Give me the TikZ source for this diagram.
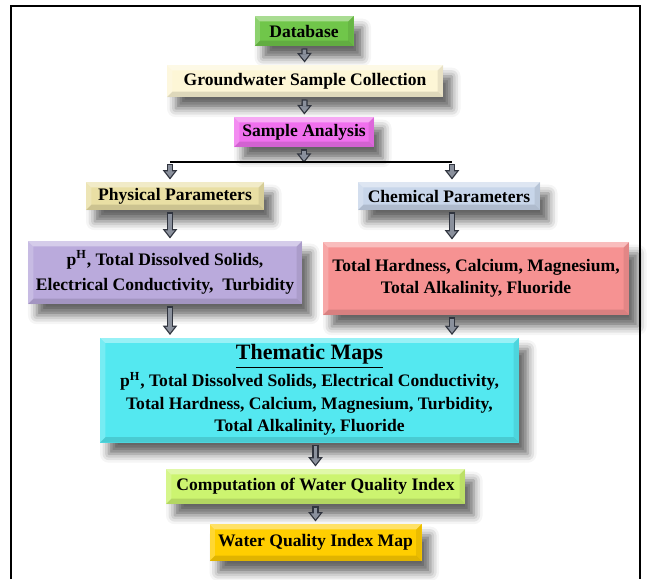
\documentclass[tikz,border=0pt]{standalone}
\usepackage{fontspec}
\setmainfont{Liberation Serif}
\usepackage{tikz}
\usetikzlibrary{arrows.meta}
\usetikzlibrary{shadows.blur}
\usetikzlibrary{calc}

\definecolor{dbgreen}{RGB}{112,198,74}
\definecolor{gwcream}{RGB}{253,246,214}
\definecolor{samagenta}{RGB}{240,112,238}
\definecolor{phkhaki}{RGB}{233,223,164}
\definecolor{chblue}{RGB}{200,214,234}
\definecolor{phlilac}{RGB}{186,170,220}
\definecolor{chsalmon}{RGB}{246,146,146}
\definecolor{tmcyan}{RGB}{84,232,240}
\definecolor{wqlime}{RGB}{204,244,112}
\definecolor{wqgold}{RGB}{255,206,0}
\definecolor{arrowrim}{RGB}{48,52,62}
\definecolor{arrowfill}{RGB}{138,144,156}

\begin{document}
\begin{tikzpicture}[
    x=0.02cm, y=-0.02cm,
    box/.style={
        fill=#1, align=center, inner sep=0pt,
        font=\bfseries\fontsize{10}{12.8}\selectfont,
        blur shadow={shadow xshift=5pt, shadow yshift=-6.5pt,
                     shadow blur radius=5pt, shadow opacity=60},
        path picture={
            \coordinate (bnw) at (path picture bounding box.north west);
            \coordinate (bne) at (path picture bounding box.north east);
            \coordinate (bsw) at (path picture bounding box.south west);
            \coordinate (bse) at (path picture bounding box.south east);
            \fill[white, opacity=0.4] (bnw) -- (bne) -- ([shift={(-3pt,-3pt)}]bne) -- ([shift={(3pt,-3pt)}]bnw) -- cycle;
            \fill[white, opacity=0.2] (bnw) -- (bsw) -- ([shift={(3pt,3pt)}]bsw) -- ([shift={(3pt,-3pt)}]bnw) -- cycle;
            \fill[black, opacity=0.12] (bsw) -- (bse) -- ([shift={(-3pt,3pt)}]bse) -- ([shift={(3pt,3pt)}]bsw) -- cycle;
            \fill[black, opacity=0.08] (bne) -- (bse) -- ([shift={(-3pt,3pt)}]bse) -- ([shift={(-3pt,-3pt)}]bne) -- cycle;
        }
    },
    block arrow/.style={
        draw=arrowrim, line width=3.5pt,
        -{Triangle[length=5.4pt,width=8pt]},
        shorten <=1.2pt, shorten >=1.2pt,
        postaction={draw=arrowfill, line width=2pt,
            -{Triangle[length=3.5pt,width=5.2pt]},
            shorten <=1.9pt, shorten >=2.4pt}
    },
    split line/.style={draw=black, line width=0.9pt}
  ]

  \useasboundingbox (0,0) rectangle (650,579);
  \draw[line width=1.1pt] (11,579) -- (11,6) -- (640,6) -- (640,579);

  % top chain
  \node[box=dbgreen, minimum width=0.02cm*99, minimum height=0.02cm*30] (db) at (304,31) {Database};
  \node[box=gwcream, minimum width=0.02cm*276, minimum height=0.02cm*32] (gw) at (305,81) {Groundwater Sample Collection};
  \node[box=samagenta, minimum width=0.02cm*140, minimum height=0.02cm*30] (sa) at (304,132) {Sample Analysis};

  % parameter groups
  \node[box=phkhaki, minimum width=0.02cm*178, minimum height=0.02cm*28] (pp) at (175,196) {Physical Parameters};
  \node[box=chblue, minimum width=0.02cm*182, minimum height=0.02cm*28] (cp) at (449,196) {Chemical Parameters};

  \node[box=phlilac, minimum width=0.02cm*274, minimum height=0.02cm*63] (phys) at (165,272.5)
    {p\textsuperscript{H}, Total Dissolved Solids,\\[1.4pt] Electrical Conductivity,~ Turbidity};
  \node[box=chsalmon, minimum width=0.02cm*306, minimum height=0.02cm*73] (chem) at (476,278.5)
    {Total Hardness, Calcium, Magnesium,\\ Total Alkalinity, Fluoride};

  % maps and index
  \node[box=tmcyan, minimum width=0.02cm*419, minimum height=0.02cm*105] (tm) at (309.5,390)
    {{\fontsize{12.5}{15}\selectfont\underline{Thematic Maps}}\\[1.5pt]
     p\textsuperscript{H}, Total Dissolved Solids, Electrical Conductivity,\\
     Total Hardness, Calcium, Magnesium, Turbidity,\\
     Total Alkalinity, Fluoride};
  \node[box=wqlime, minimum width=0.02cm*299, minimum height=0.02cm*35] (cwqi) at (315.5,486.5) {Computation of Water Quality Index};
  \node[box=wqgold, minimum width=0.02cm*212, minimum height=0.02cm*37] (map) at (315.5,542.5) {Water Quality Index Map};

  \coordinate (br) at (304,165);
  \coordinate (brL) at (170,162);
  \coordinate (brR) at (452,162);

  \draw[block arrow] (db) -- (gw);
  \draw[block arrow] (gw) -- (sa);
  \draw[block arrow] (sa) -- (br);
  \draw[split line] (brL) -- (brR);
  \draw[block arrow] (brL) -- (brL |- pp.north);
  \draw[block arrow] (brR) -- (brR |- cp.north);
  \draw[block arrow] (pp.south -| brL) -- (brL |- phys.north);
  \draw[block arrow] (cp.south -| brR) -- (brR |- chem.north);
  \draw[block arrow] (phys.south -| brL) -- (brL |- tm.north);
  \draw[block arrow] (chem.south -| brR) -- (brR |- tm.north);
  \draw[block arrow] (tm.south -| cwqi) -- (cwqi);
  \draw[block arrow] (cwqi) -- (map);

\end{tikzpicture}
\end{document}
